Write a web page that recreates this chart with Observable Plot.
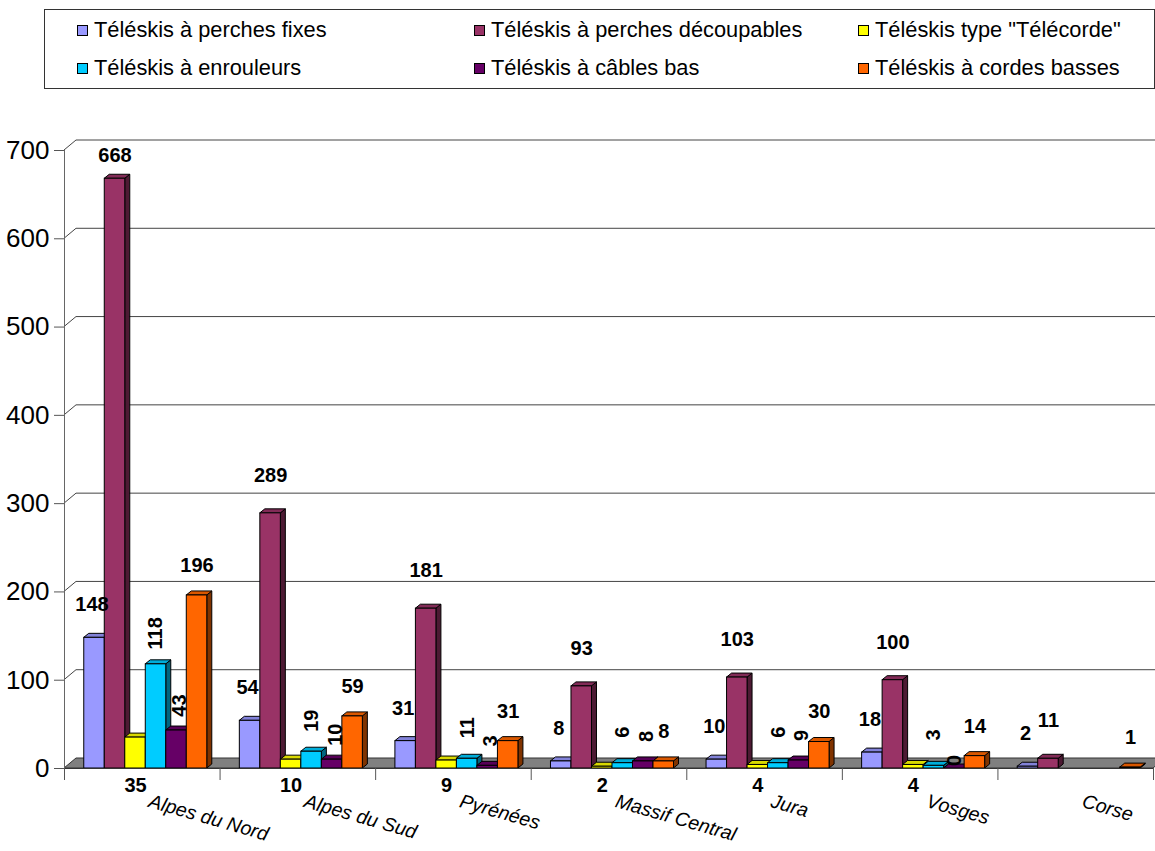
<!DOCTYPE html>
<html><head><meta charset="utf-8">
<script src="https://cdn.jsdelivr.net/npm/d3@7"></script>
<script src="https://cdn.jsdelivr.net/npm/@observablehq/plot@0.6"></script>
<style>
body{margin:0;background:#fff;font-family:"Liberation Sans",Arial,sans-serif;}
#legend{position:relative;width:1155px;height:92px;}
#legend .box{position:absolute;left:44px;top:9px;width:1109px;height:78px;border:1px solid #333;}
.item{position:absolute;font-size:21.8px;line-height:24px;white-space:nowrap;display:flex;align-items:center;color:#000;}
.sw{display:inline-block;width:9px;height:9px;border:1px solid #000;margin-right:6px;}
#chart svg{display:block;}
</style></head><body>
<div id="legend"><div class="box"></div></div>
<div id="chart"></div>
<script>
// ---- data ----
const regions = ["Alpes du Nord", "Alpes du Sud", "Pyrénées", "Massif Central", "Jura", "Vosges", "Corse"];
const seriesNames = ["Téléskis à perches fixes", "Téléskis à perches découpables", "Téléskis type \"Télécorde\"", "Téléskis à enrouleurs", "Téléskis à câbles bas", "Téléskis à cordes basses"];
const seriesColors = ["#9999ff", "#993366", "#ffff00", "#00ccff", "#660066", "#ff6600"];
const perchesFixes       = [148, 54, 31, 8, 10, 18, 2];
const perchesDecoupables = [668, 289, 181, 93, 103, 100, 11];
const telecorde          = [35, 10, 9, 2, 4, 4, null];
const enrouleurs         = [118, 19, 11, 6, 6, 3, null];
const cablesBas          = [43, 10, 3, 8, 9, 0, null];
const cordesBasses       = [196, 59, 31, 8, 30, 14, 1];
const yTicks = [0, 100, 200, 300, 400, 500, 600, 700];

const seriesValues = [perchesFixes, perchesDecoupables, telecorde, enrouleurs, cablesBas, cordesBasses];

// ---- legend ----
const legend = document.getElementById("legend");
const colLeft = [77, 474, 858], rowTop = [18, 56];
seriesNames.forEach((name, i) => {
  const it = document.createElement("div");
  it.className = "item";
  it.style.left = colLeft[i % 3] + "px";
  it.style.top = rowTop[Math.floor(i / 3)] + "px";
  const sw = document.createElement("span");
  sw.className = "sw"; sw.style.background = seriesColors[i];
  it.appendChild(sw);
  it.appendChild(document.createTextNode(name));
  legend.appendChild(it);
});

// ---- table ----
const OFF = 0.127, BW = 0.1318;
const rows = [];
regions.forEach((r, ri) => seriesNames.forEach((s, si) => {
  const v = seriesValues[si][ri];
  if (v == null) return;
  const x1 = ri + OFF + si * BW;
  rows.push({region: r, ri, series: s, si, value: v, x1, x2: x1 + BW, xc: x1 + BW / 2});
}));

const WDX = 12, WDY = 10; // wall depth
const BDX = 5, BDY = 4;   // bar depth

function backWall(index, scales, values, dims) {
  const X = scales.x, Y = scales.y;
  const g = d3.create("svg:g");
  const x0 = X(0), x7 = X(7), y0 = Y(0);
  for (const v of yTicks) {
    if (v === 0) continue;
    const y = Y(v);
    g.append("path").attr("d", `M${x0},${y}L${x0 + WDX},${y - WDY}L${dims.width + 20},${y - WDY}`)
      .attr("fill", "none").attr("stroke", "#444").attr("stroke-width", 1);
  }
  g.append("path").attr("d", `M${x0},${y0}L${x0 + WDX},${y0 - WDY}L${x7 + WDX},${y0 - WDY}L${x7},${y0}Z`)
    .attr("fill", "#808080").attr("stroke", "#333").attr("stroke-width", 1);
  return g.node();
}

function shade(c, k) { const o = d3.rgb(c); return d3.rgb(o.r * k, o.g * k, o.b * k).formatHex(); }

function bars3d(index, scales) {
  const X = scales.x, Y = scales.y;
  const g = d3.create("svg:g").attr("stroke", "#000").attr("stroke-width", 1).attr("stroke-linejoin", "round");
  const y0 = Y(0);
  for (const r of rows) {
    const xa = X(r.x1), xb = X(r.x2), yv = Y(r.value);
    const c = seriesColors[r.si];
    g.append("path").attr("d", `M${xb},${y0}L${xb + BDX},${y0 - BDY}L${xb + BDX},${yv - BDY}L${xb},${yv}Z`).attr("fill", shade(c, 0.5));
    g.append("path").attr("d", `M${xa},${yv}L${xa + BDX},${yv - BDY}L${xb + BDX},${yv - BDY}L${xb},${yv}Z`).attr("fill", shade(c, 0.85));
  }
  return g.node();
}

// label styles per series
const labelStyle = [
  {x: d => d.x1 + 0.05, y: d => d.value, dy: -33, rotate: 0},
  {x: d => d.xc, y: d => Math.min(d.value, 651), dy: -38, rotate: 0},
  {x: d => d.xc, y: d => 0, dy: 17, rotate: 0},
  {x: d => d.xc, y: d => d.value, dy: -31, rotate: -90},
  {x: d => d.xc + 0.02, y: d => d.value, dy: -25, rotate: -90},
  {x: d => d.xc, y: d => d.value, dy: -30, rotate: 0}
];
const labelMarks = labelStyle.map((st, si) => Plot.text(rows.filter(d => d.si === si && !(si === 4 && d.value === 0)), {
  x: st.x, y: st.y, text: d => String(d.value), dy: st.dy, rotate: st.rotate,
  fontSize: 20, fontWeight: "bold", fill: "#000", textAnchor: "middle", lineAnchor: "middle"
}));
// label of a zero-height bar sits on the bar
const zeroLabel = Plot.text(rows.filter(d => d.si === 4 && d.value === 0), {
  x: d => d.xc, y: d => d.value, text: d => String(d.value),
  dy: -8, rotate: -90, fontSize: 20, fontWeight: "bold", fill: "#000", textAnchor: "middle", lineAnchor: "middle"
});

const chart = Plot.plot({
  width: 1155, height: 759,
  marginLeft: 64, marginRight: 2, marginTop: 58, marginBottom: 83,
  style: {fontFamily: "Liberation Sans, Arial, sans-serif", background: "#fff"},
  x: {type: "linear", domain: [0, 7]},
  y: {domain: [0, 700]},
  color: {domain: seriesNames, range: seriesColors},
  marks: [
    backWall,
    Plot.ruleX([0], {stroke: "#666"}),
    Plot.axisY({ticks: yTicks, tickSize: 10, tickPadding: 5, fontSize: 26, label: null, stroke: "#555", fill: "#000"}),
    bars3d,
    Plot.rectY(rows, {x1: "x1", x2: "x2", y1: 0, y2: "value", fill: "series", stroke: "#000", strokeWidth: 1}),
    Plot.ruleY([0], {stroke: "#333"}),
    Plot.axisX({ticks: d3.range(0, 8), tickSize: 12, tickFormat: () => "", label: null, stroke: "#555"}),
    Plot.text(regions, {x: (d, i) => i + 0.5, y: () => 0, text: d => d, rotate: 16, textAnchor: "start", lineAnchor: "top",
      dx: 9, dy: 25, fontSize: 19.5, fontStyle: "italic", fontFamily: "Liberation Sans, sans-serif", fill: "#000"}),
    ...labelMarks,
    zeroLabel
  ]
});
document.getElementById("chart").appendChild(chart);
</script>
</body></html>
